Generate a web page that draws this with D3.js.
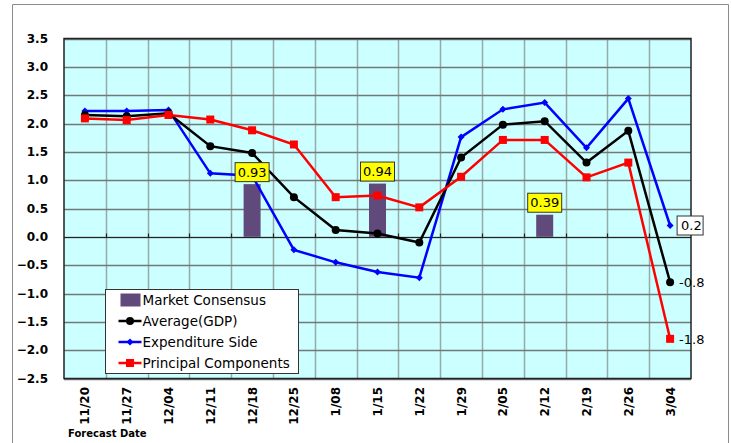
<!DOCTYPE html>
<html>
<head>
<meta charset="utf-8">
<title>GDP forecasts</title>
<style>
	body{margin:0;background:#fff;}
	svg text{font-family:Verdana,"DejaVu Sans",sans-serif;}
</style>
</head>
<body>
<div id="chart"></div>
<script src="https://d3js.org/d3.v7.min.js"></script>
<script type="text/javascript">

var dates = ['11/20','11/27','12/04','12/11','12/18','12/25','1/08','1/15','1/22','1/29','2/05','2/12','2/19','2/26','3/04'];
var average = [2.15,2.13,2.18,1.60,1.48,0.70,0.12,0.06,-0.10,1.40,1.98,2.04,1.31,1.87,-0.8];
var expenditure = [2.22,2.22,2.24,1.12,1.08,-0.23,-0.45,-0.62,-0.72,1.76,2.25,2.37,1.57,2.44,0.2];
var principal = [2.09,2.06,2.15,2.07,1.88,1.63,0.70,0.73,0.52,1.06,1.71,1.71,1.05,1.31,-1.8];
var consensusDates = ['12/18','1/15','2/12'];
var consensus = [0.93,0.94,0.39];
var yTicks = [3.5,3.0,2.5,2.0,1.5,1.0,0.5,0.0,-0.5,-1.0,-1.5,-2.0,-2.5];

var W = 731, H = 443,
	pLeft = 64, pRight = 691, pTop = 38.5, pBottom = 378.5;

var svg = d3.select('#chart').append('svg').attr('width',W).attr('height',H);

// outer frame
svg.append('path').attr('d','M12.5,443 V4.5 H728.5 V443').attr('fill','none').attr('stroke','#8c8c8c').attr('stroke-width',1);

var x = d3.scaleBand().domain(dates).range([pLeft,pRight]),
	y = d3.scaleLinear().domain([-2.5,3.5]).range([pBottom,pTop]),
	cx = function(d){ return x(d) + x.bandwidth()/2; };

svg.append('rect').attr('x',pLeft).attr('y',pTop).attr('width',pRight-pLeft).attr('height',pBottom-pTop).attr('fill','#ccffff');

// vertical grid
svg.append('g').selectAll('line').data(dates.slice(1)).join('line')
	.attr('x1',function(d){ return Math.round(x(d))+0.5; }).attr('x2',function(d){ return Math.round(x(d))+0.5; })
	.attr('y1',pTop).attr('y2',pBottom).attr('stroke','#96aaaa').attr('stroke-width',1.5);

// horizontal grid
svg.append('g').selectAll('line').data(yTicks).join('line')
	.attr('x1',pLeft).attr('x2',pRight)
	.attr('y1',function(d){ return Math.round(y(d))+0.5; }).attr('y2',function(d){ return Math.round(y(d))+0.5; })
	.attr('stroke','#707878').attr('stroke-width',1.5);

// zero axis with ticks
var y0 = Math.round(y(0))+0.5;
svg.append('line').attr('x1',pLeft).attr('x2',pRight).attr('y1',y0).attr('y2',y0).attr('stroke','#222').attr('stroke-width',1.2);
svg.append('g').selectAll('line').data(dates.slice(1)).join('line')
	.attr('x1',function(d){ return Math.round(x(d))+0.5; }).attr('x2',function(d){ return Math.round(x(d))+0.5; })
	.attr('y1',y0-4).attr('y2',y0).attr('stroke','#222').attr('stroke-width',1.2);

svg.append('rect').attr('x',pLeft).attr('y',pTop).attr('width',pRight-pLeft).attr('height',pBottom-pTop)
	.attr('fill','none').attr('stroke','#222').attr('stroke-width',1.5);

// y labels
svg.append('g').selectAll('text').data(yTicks).join('text')
	.attr('x',48).attr('y',function(d){ return y(d); }).attr('dy','0.35em')
	.attr('text-anchor','end').style('font-size','12px').style('font-weight','bold')
	.text(function(d){ return d3.format('.1f')(d); });

// x labels
svg.append('g').selectAll('text').data(dates).join('text')
	.attr('transform',function(d){ return 'translate(' + (cx(d)+4.5) + ',387) rotate(-90)'; })
	.attr('text-anchor','end').style('font-size','12px').style('font-weight','bold')
	.text(function(d){ return d; });

svg.append('text').attr('x',68).attr('y',437).style('font-size','10px').style('font-weight','bold').text('Forecast Date');

// bars
var barW = 17;
svg.append('g').selectAll('rect').data(consensus).join('rect')
	.attr('x',function(d,i){ return cx(consensusDates[i]) - barW/2; })
	.attr('y',function(d){ return y(d); })
	.attr('width',barW).attr('height',function(d){ return y(0) - y(d); })
	.attr('fill','#604a7b');

// lines
var series = [
	{name:'Average(GDP)', values:average, color:'#000000', marker:'circle'},
	{name:'Expenditure Side', values:expenditure, color:'#0000ff', marker:'diamond'},
	{name:'Principal Components', values:principal, color:'#ff0000', marker:'square'}
];
var line = d3.line().x(function(d,i){ return cx(dates[i]); }).y(function(d){ return y(d); });

function marker(g, type, color){
	if(type=='circle') g.append('circle').attr('r',4).attr('fill',color);
	else if(type=='square') g.append('rect').attr('x',-4).attr('y',-4).attr('width',8).attr('height',8).attr('fill',color);
	else g.append('path').attr('d','M0,-3.5L3.5,0L0,3.5L-3.5,0Z').attr('fill',color);
}

[series[1], series[0], series[2]].forEach(function(s){
	svg.append('path').datum(s.values).attr('d',line).attr('fill','none')
		.attr('stroke',s.color).attr('stroke-width',2.5);
	svg.append('g').selectAll('g').data(s.values).join('g')
		.attr('transform',function(d,i){ return 'translate(' + cx(dates[i]) + ',' + y(d) + ')'; })
		.each(function(){ marker(d3.select(this), s.marker, s.color); });
});

// bar labels (on top of lines)
var bl = svg.append('g').selectAll('g').data(consensus).join('g')
	.attr('transform',function(d,i){ return 'translate(' + cx(consensusDates[i]) + ',' + (y(d)-12) + ')'; });
bl.append('rect').attr('x',-17).attr('y',-9.5).attr('width',34).attr('height',19)
	.attr('fill','#ffff00').attr('stroke','#333').attr('stroke-width',1);
bl.append('text').attr('text-anchor','middle').attr('dy','0.36em').style('font-size','13px')
	.text(function(d){ return d.toFixed(2); });

// end labels
var last = dates.length - 1, lx = cx(dates[last]);
var eb = svg.append('g').attr('transform','translate(' + (lx+7) + ',' + y(expenditure[last]) + ')');
eb.append('rect').attr('x',0).attr('y',-9.5).attr('width',26).attr('height',19).attr('fill','#fff').attr('stroke','#333');
eb.append('text').attr('x',4).attr('dy','0.36em').style('font-size','13px').text(expenditure[last]);
svg.append('text').attr('x',lx+9).attr('y',y(average[last])).attr('dy','0.36em').style('font-size','13px').text(average[last]);
svg.append('text').attr('x',lx+9).attr('y',y(principal[last])).attr('dy','0.36em').style('font-size','13px').text(principal[last]);

// legend
var lg = svg.append('g').attr('transform','translate(105.5,289.5)');
lg.append('rect').attr('width',193).attr('height',84).attr('fill','#fff').attr('stroke','#333').attr('stroke-width',1);
lg.append('rect').attr('x',15).attr('y',4).attr('width',20).attr('height',13).attr('fill','#604a7b');
lg.append('text').attr('x',37).attr('y',10.5).attr('dy','0.36em').style('font-size','13.5px').text('Market Consensus');
series.forEach(function(s,i){
	var ly = 31.5 + i*21;
	var r = lg.append('g').attr('transform','translate(0,' + ly + ')');
	r.append('line').attr('x1',13).attr('x2',36).attr('stroke',s.color).attr('stroke-width',2.5);
	marker(r.append('g').attr('transform','translate(24.5,0)'), s.marker, s.color);
	r.append('text').attr('x',37).attr('dy','0.36em').style('font-size','13.5px').text(s.name);
});

</script>
</body>
</html>
